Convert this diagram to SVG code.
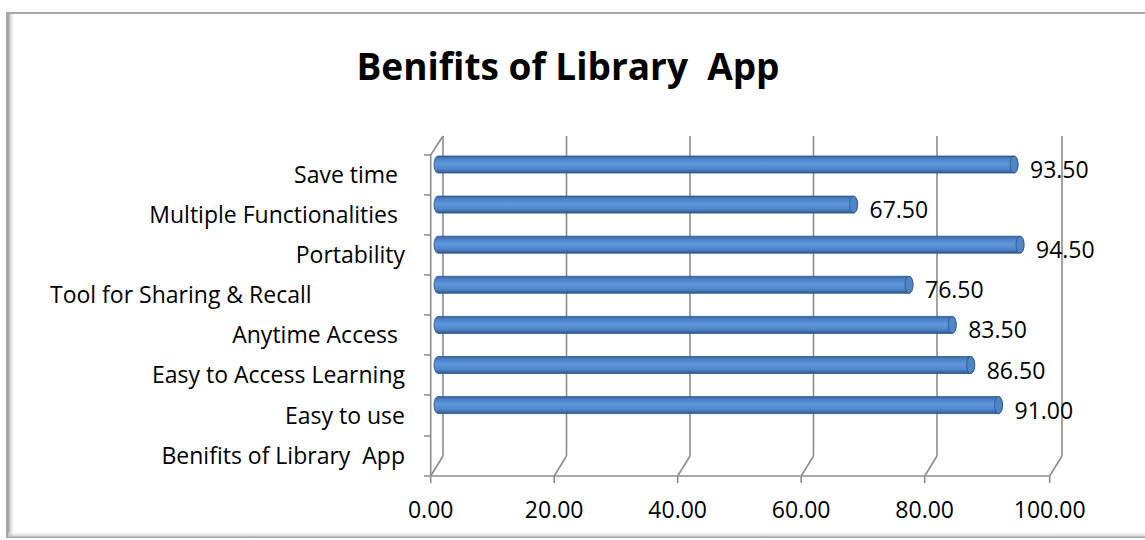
<svg xmlns="http://www.w3.org/2000/svg" width="1145" height="540" viewBox="0 0 1145 540">
<style>
.frame{fill:#ffffff;stroke:#a6a6a6;stroke-width:2}
.grid{stroke:#8c8c8c;stroke-width:1.6;fill:none}
.lbl{font-family:"Open Sans","Liberation Sans",sans-serif;font-size:23px;fill:#000}
.cat{text-anchor:end;white-space:pre}
.ax{text-anchor:middle}
.title{font-family:"Open Sans","Liberation Sans",sans-serif;font-size:37px;font-weight:bold;fill:#000;text-anchor:middle;white-space:pre}
.bar{fill:url(#barg);stroke:#2d5586;stroke-width:0.8}
.cap{fill:#4f84c6;stroke:#2d5586;stroke-width:0.8}
</style>
<defs>
<linearGradient id="barg" x1="0" y1="0" x2="0" y2="1">
<stop offset="0" stop-color="#3a66a0"/>
<stop offset="0.18" stop-color="#4b82c8"/>
<stop offset="0.45" stop-color="#6097dc"/>
<stop offset="0.75" stop-color="#5088cd"/>
<stop offset="1" stop-color="#2f5a8e"/>
</linearGradient>
<linearGradient id="lsh" x1="0" y1="0" x2="1" y2="0">
<stop offset="0" stop-color="#9a9a9a"/>
<stop offset="1" stop-color="#ffffff" stop-opacity="0"/>
</linearGradient>
<linearGradient id="bsh" x1="0" y1="0" x2="0" y2="1">
<stop offset="0" stop-color="#ffffff" stop-opacity="0"/>
<stop offset="1" stop-color="#bdbdbd"/>
</linearGradient>
</defs>
<rect width="1145" height="540" fill="#ffffff"/>
<g id="frame">
<rect class="frame" x="7" y="13" width="1150" height="524"/>
<rect x="8" y="14" width="7" height="522" fill="url(#lsh)"/>
<rect x="8" y="531" width="1140" height="6" fill="url(#bsh)"/>
</g>
<g id="title"><text class="title" x="568" y="80">Benifits of Library  App</text></g>
<g id="axes">
<g class="grid">
<line x1="443" y1="136" x2="443" y2="456"/>
<line x1="566.5" y1="136" x2="566.5" y2="456"/>
<line x1="690" y1="136" x2="690" y2="456"/>
<line x1="813.5" y1="136" x2="813.5" y2="456"/>
<line x1="937" y1="136" x2="937" y2="456"/>
<line x1="1062" y1="136" x2="1062" y2="456"/>
<path d="M430.7 476 L443 456 M554.2 476 L566.5 456 M677.7 476 L690 456 M801.2 476 L813.5 456 M924.7 476 L937 456 M1049.7 476 L1062 456"/>
<path d="M430.7 155 L443 136"/>
<line x1="430.7" y1="155" x2="430.7" y2="476"/>
<line x1="430.7" y1="476" x2="1049.7" y2="476"/>
<path d="M424 155H430.7M424 195H430.7M424 235H430.7M424 275H430.7M424 315H430.7M424 355H430.7M424 395H430.7M424 436H430.7M424 476H430.7"/>
<path d="M430.7 476V483M554.2 476V483M677.7 476V483M801.2 476V483M924.7 476V483M1049.7 476V483"/>
</g>
<text class="lbl ax" x="430.7" y="518">0.00</text>
<text class="lbl ax" x="554.2" y="518">20.00</text>
<text class="lbl ax" x="677.7" y="518">40.00</text>
<text class="lbl ax" x="801.2" y="518">60.00</text>
<text class="lbl ax" x="924.7" y="518">80.00</text>
<text class="lbl ax" x="1049.7" y="518">100.00</text>
</g>
<g id="categories">
<text class="lbl cat" x="398" y="183">Save time</text>
<text class="lbl cat" x="398" y="223">Multiple Functionalities</text>
<text class="lbl cat" x="405" y="263">Portability</text>
<text class="lbl" x="50" y="303">Tool for Sharing &amp; Recall</text>
<text class="lbl cat" x="398" y="343">Anytime Access</text>
<text class="lbl cat" x="405" y="383">Easy to Access Learning</text>
<text class="lbl cat" x="405" y="424">Easy to use</text>
<text class="lbl cat" x="405" y="464">Benifits of Library  App</text>
</g>
<g id="bar-save-time">
<path class="bar" d="M438 156 L1014 156 A4 8.5 0 0 1 1014 173 L438 173 A4 8.5 0 0 1 438 156 Z"/>
<ellipse class="cap" cx="1014" cy="164.5" rx="4" ry="8.5"/>
<text class="lbl" x="1030" y="178">93.50</text>
</g>
<g id="bar-multiple">
<path class="bar" d="M438 196.1 L853.5 196.1 A4 8.5 0 0 1 853.5 213.1 L438 213.1 A4 8.5 0 0 1 438 196.1 Z"/>
<ellipse class="cap" cx="853.5" cy="204.6" rx="4" ry="8.5"/>
<text class="lbl" x="869.5" y="218.1">67.50</text>
</g>
<g id="bar-portability">
<path class="bar" d="M438 236.2 L1020 236.2 A4 8.5 0 0 1 1020 253.2 L438 253.2 A4 8.5 0 0 1 438 236.2 Z"/>
<ellipse class="cap" cx="1020" cy="244.7" rx="4" ry="8.5"/>
<text class="lbl" x="1036" y="258.2">94.50</text>
</g>
<g id="bar-tool">
<path class="bar" d="M438 276.3 L909 276.3 A4 8.5 0 0 1 909 293.3 L438 293.3 A4 8.5 0 0 1 438 276.3 Z"/>
<ellipse class="cap" cx="909" cy="284.8" rx="4" ry="8.5"/>
<text class="lbl" x="925" y="298.3">76.50</text>
</g>
<g id="bar-anytime">
<path class="bar" d="M438 316.4 L952.2 316.4 A4 8.5 0 0 1 952.2 333.4 L438 333.4 A4 8.5 0 0 1 438 316.4 Z"/>
<ellipse class="cap" cx="952.2" cy="324.9" rx="4" ry="8.5"/>
<text class="lbl" x="968.2" y="338.4">83.50</text>
</g>
<g id="bar-easy-access">
<path class="bar" d="M438 356.5 L970.7 356.5 A4 8.5 0 0 1 970.7 373.5 L438 373.5 A4 8.5 0 0 1 438 356.5 Z"/>
<ellipse class="cap" cx="970.7" cy="365" rx="4" ry="8.5"/>
<text class="lbl" x="986.7" y="378.5">86.50</text>
</g>
<g id="bar-easy-use">
<path class="bar" d="M438 396.6 L998.5 396.6 A4 8.5 0 0 1 998.5 413.6 L438 413.6 A4 8.5 0 0 1 438 396.6 Z"/>
<ellipse class="cap" cx="998.5" cy="405.1" rx="4" ry="8.5"/>
<text class="lbl" x="1014.5" y="418.6">91.00</text>
</g>
</svg>
